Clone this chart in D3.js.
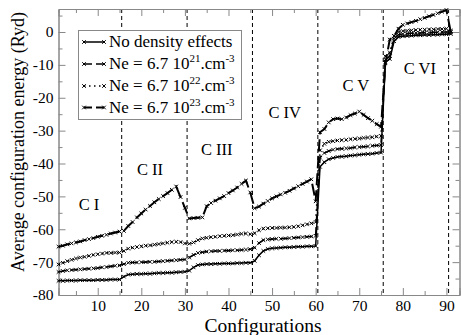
<!DOCTYPE html>
<html>
<head>
<meta charset="utf-8">
<script src="https://cdn.jsdelivr.net/npm/d3@7"></script>
<style>
body { margin: 0; background: #fff; }
text { font-family: "Liberation Serif", "DejaVu Serif", serif; fill: #000; }
</style>
</head>
<body>
<svg width="461" height="335"></svg>
<script>
// configuration index (1..91)
var configurations = d3.range(1, 92);

// average configuration energy (Ryd), one value per configuration
var noDensity = [
  -75.7,-75.7,-75.6,-75.6,-75.6,-75.5,-75.5,-75.5,-75.5,-75.4,-75.4,-75.4,-75.3,-75.3,-75.3,
  -74.4,-73.8,-73.7,-73.6,-73.6,-73.5,-73.5,-73.4,-73.3,-73.3,-73.2,-73.2,-73.1,-73.0,-72.9,
  -72.6,-71.6,-70.9,-70.7,-70.6,-70.6,-70.5,-70.5,-70.4,-70.4,-70.4,-70.3,-70.3,-70.2,-70.2,
  -69.6,-67.9,-66.6,-66.0,-65.8,-65.7,-65.6,-65.5,-65.5,-65.4,-65.3,-65.3,-65.2,-65.2,-65.1,
  -41.0,-39.6,-38.7,-38.3,-38.0,-37.9,-37.8,-37.6,-37.5,-37.3,-37.2,-37.1,-37.0,-36.8,-36.7,
  -9.2,-8.2,-2.8,-1.5,-1.3,-1.2,-1.1,-1.0,-1.0,-0.9,-0.9,-0.8,-0.8,-0.7,-0.7,-0.6
];
var ne21 = [
  -73.0,-72.7,-72.5,-72.4,-72.3,-72.2,-72.1,-72.0,-71.9,-71.8,-71.6,-71.5,-71.3,-71.1,-71.0,
  -70.6,-70.2,-70.1,-70.1,-70.0,-70.0,-69.9,-69.9,-69.8,-69.7,-69.6,-69.5,-69.4,-69.3,-69.2,
  -68.6,-67.8,-67.2,-67.0,-66.8,-66.7,-66.6,-66.6,-66.5,-66.5,-66.4,-66.4,-66.3,-66.2,-66.1,
  -65.6,-64.2,-63.3,-63.1,-63.0,-62.9,-62.9,-62.8,-62.7,-62.6,-62.5,-62.4,-62.3,-62.2,-62.0,
  -38.2,-36.8,-36.2,-35.8,-35.6,-35.5,-35.4,-35.3,-35.1,-35.0,-34.9,-34.8,-34.6,-34.5,-34.4,
  -8.4,-7.3,-2.0,-0.8,-0.6,-0.5,-0.4,-0.3,-0.3,-0.2,-0.2,-0.1,-0.1,0.0,0.0,0.0
];
var ne22 = [
  -70.7,-70.2,-69.7,-69.3,-68.9,-68.6,-68.4,-68.1,-67.8,-67.6,-67.4,-67.2,-67.2,-67.1,-67.1,
  -66.6,-65.9,-65.6,-65.4,-65.2,-65.0,-64.9,-64.7,-64.5,-64.3,-64.1,-63.9,-63.8,-63.9,-64.3,
  -64.4,-64.0,-63.3,-62.8,-62.6,-62.4,-62.3,-62.1,-62.0,-61.9,-61.8,-61.6,-61.4,-61.3,-61.5,
  -61.2,-60.3,-59.8,-59.7,-59.6,-59.6,-59.5,-59.5,-59.4,-59.3,-59.1,-58.8,-58.5,-58.2,-57.8,
  -36.0,-34.0,-33.4,-33.2,-33.0,-32.9,-32.8,-32.6,-32.5,-32.4,-32.2,-32.1,-32.0,-31.8,-31.6,
  -7.4,-6.2,-1.2,0.0,0.3,0.4,0.5,0.6,0.7,0.7,0.8,0.8,0.9,0.9,1.0,0.4
];
var ne23 = [
  -65.3,-65.0,-64.6,-64.3,-64.0,-63.7,-63.3,-63.0,-62.7,-62.3,-62.0,-61.7,-61.3,-61.0,-60.7,
  -60.5,-59.0,-57.8,-56.4,-55.2,-54.0,-52.9,-51.8,-50.8,-49.9,-49.0,-48.0,-47.0,-50.2,-53.5,
  -56.7,-56.6,-56.5,-56.4,-53.0,-52.0,-51.3,-50.6,-49.9,-49.0,-48.2,-47.3,-46.2,-45.2,-48.8,
  -53.6,-53.1,-52.2,-51.4,-50.6,-50.0,-49.4,-48.9,-48.3,-47.6,-46.9,-46.2,-45.5,-44.8,-51.5,
  -30.5,-29.5,-27.5,-26.5,-26.3,-26.5,-26.0,-25.3,-24.8,-24.2,-25.2,-26.2,-27.0,-28.0,-28.8,
  -9.5,-2.3,-1.2,1.0,2.2,2.6,3.0,3.4,3.9,4.3,4.8,5.2,5.7,6.2,6.7,0.0
];

var ions = ["C I", "C II", "C III", "C IV", "C V", "C VI"];
var ionBounds = [15.5, 30.5, 45.5, 60.5, 75.5, 90.5];
var xTicks = [10, 20, 30, 40, 50, 60, 70, 80, 90];
var yTicks = [-80, -70, -60, -50, -40, -30, -20, -10, 0];

// where the ion names sit (configuration, energy)
var ionLabelPos = [[8, -54.2], [22, -43.5], [37.3, -37.4], [52.9, -26.3], [69.2, -17.9], [83.9, -12.8]];

window.onload = function() {
  var svg = d3.select("svg");
  var left = 58.5, right = 459.5, top = 9, bottom = 295;

  var x = d3.scaleLinear().domain([1, 93]).range([left, right]);
  var y = d3.scaleLinear().domain([-80, 7]).range([bottom, top]);

  var series = [
    {name: "No density effects", exp: null, values: noDensity, dash: null, width: 1.5},
    {name: "Ne = 6.7 10", exp: "21", values: ne21, dash: "8,4", width: 1.6},
    {name: "Ne = 6.7 10", exp: "22", values: ne22, dash: "1.5,3.5", width: 1.6},
    {name: "Ne = 6.7 10", exp: "23", values: ne23, dash: "12,5", width: 2}
  ];

  // ion separators
  svg.selectAll("line.sep").data(ionBounds).enter().append("line")
    .attr("x1", function(d){ return x(d); }).attr("x2", function(d){ return x(d); })
    .attr("y1", top).attr("y2", bottom)
    .attr("stroke", "#000").attr("stroke-width", 1).attr("stroke-dasharray", "4,3");

  // axes: ticks pointing inward on all four sides
  function styleAxis(g) {
    g.select(".domain").attr("stroke", "#888");
    g.selectAll(".tick line").attr("stroke", "#888");
    g.selectAll("text").style("font-family", "Liberation Serif, serif").style("font-size", "15.5px").attr("fill", "#000");
  }
  var xMinor = [5, 15, 25, 35, 45, 55, 65, 75, 85];
  var yMinor = [-75, -65, -55, -45, -35, -25, -15, -5, 5];

  svg.append("g").attr("transform", "translate(0," + bottom + ")")
    .call(d3.axisBottom(x).tickValues(xTicks).tickSize(-7).tickPadding(5).tickFormat(d3.format("d")))
    .call(styleAxis);
  svg.append("g").attr("transform", "translate(0," + bottom + ")")
    .call(d3.axisBottom(x).tickValues(xMinor).tickSize(-4).tickFormat(""))
    .call(styleAxis);
  svg.append("g").attr("transform", "translate(0," + top + ")")
    .call(d3.axisTop(x).tickValues(xTicks).tickSize(-7).tickFormat(""))
    .call(styleAxis);
  svg.append("g").attr("transform", "translate(0," + top + ")")
    .call(d3.axisTop(x).tickValues(xMinor).tickSize(-4).tickFormat(""))
    .call(styleAxis);
  svg.append("g").attr("transform", "translate(" + left + ",0)")
    .call(d3.axisLeft(y).tickValues(yTicks).tickSize(-7).tickPadding(5).tickFormat(d3.format("d")))
    .call(styleAxis);
  svg.append("g").attr("transform", "translate(" + left + ",0)")
    .call(d3.axisLeft(y).tickValues(yMinor).tickSize(-4).tickFormat(""))
    .call(styleAxis);
  svg.append("g").attr("transform", "translate(" + right + ",0)")
    .call(d3.axisRight(y).tickValues(yTicks).tickSize(-7).tickFormat(""))
    .call(styleAxis);
  svg.append("g").attr("transform", "translate(" + right + ",0)")
    .call(d3.axisRight(y).tickValues(yMinor).tickSize(-4).tickFormat(""))
    .call(styleAxis);

  // plain hyphen for negative labels, like the original
  svg.selectAll(".tick text").text(function(){ return this.textContent.replace("\u2212", "-"); });

  // curves
  var line = d3.line()
    .x(function(d, i){ return x(configurations[i]); })
    .y(function(d){ return y(d); });

  var cross = "M-1.8,-1.8L1.8,1.8M-1.8,1.8L1.8,-1.8";

  series.forEach(function(s) {
    svg.append("path").datum(s.values)
      .attr("d", line)
      .attr("fill", "none").attr("stroke", "#000")
      .attr("stroke-width", s.width)
      .attr("stroke-dasharray", s.dash);
    svg.append("g").selectAll("path").data(s.values).enter().append("path")
      .attr("d", cross)
      .attr("transform", function(d, i){ return "translate(" + x(configurations[i]) + "," + y(d) + ")"; })
      .attr("stroke", "#000").attr("stroke-width", 1).attr("fill", "none");
  });

  // ion names
  svg.selectAll("text.ion").data(ions).enter().append("text")
    .attr("class", "ion")
    .attr("x", function(d, i){ return x(ionLabelPos[i][0]); })
    .attr("y", function(d, i){ return y(ionLabelPos[i][1]); })
    .attr("text-anchor", "middle")
    .style("font-size", "16.5px")
    .text(function(d){ return d; });

  // legend
  var leg = svg.append("g");
  leg.append("rect").attr("x", 78.5).attr("y", 30.5).attr("width", 163).attr("height", 89)
    .attr("fill", "#fff").attr("stroke", "#888").attr("stroke-width", 1);
  var rowY = [42, 64, 86, 107.5];
  series.forEach(function(s, i) {
    var ry = rowY[i];
    leg.append("line").attr("x1", 84).attr("x2", 104).attr("y1", ry).attr("y2", ry)
      .attr("stroke", "#000").attr("stroke-width", s.width)
      .attr("stroke-dasharray", s.dash ? (i === 2 ? "1.5,3.5" : "8,4") : null);
    [84, 104].forEach(function(px) {
      leg.append("path").attr("d", cross).attr("transform", "translate(" + px + "," + ry + ")")
        .attr("stroke", "#000").attr("stroke-width", 1).attr("fill", "none");
    });
    var t = leg.append("text").attr("x", 109).attr("y", ry + 5).style("font-size", "17px");
    t.append("tspan").text(s.name);
    if (s.exp) {
      t.append("tspan").attr("dy", -7).style("font-size", "11px").text(s.exp);
      t.append("tspan").attr("dy", 7).text(".cm");
      t.append("tspan").attr("dy", -7).style("font-size", "11px").text("-3");
    }
  });

  // axis titles
  svg.append("text").attr("x", (left + right) / 2 + 4).attr("y", 332)
    .attr("text-anchor", "middle").style("font-size", "19.5px").text("Configurations");
  svg.append("text").attr("transform", "translate(24,142) rotate(-90)")
    .attr("text-anchor", "middle").style("font-size", "18px").text("Average configuration energy (Ryd)");
};
</script>
</body>
</html>
